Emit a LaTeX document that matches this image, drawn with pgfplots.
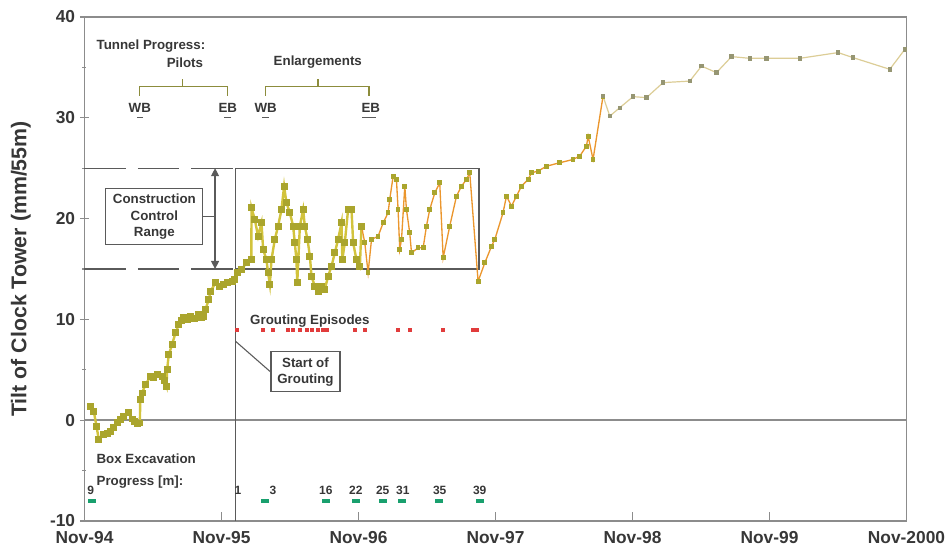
\documentclass[border=0pt]{standalone}
\usepackage{pgfplots}
\pgfplotsset{compat=1.18}
\usepackage{fontspec}
\setmainfont{Liberation Sans}
\usetikzlibrary{arrows.meta}

\definecolor{axgray}{RGB}{140,140,140}
\definecolor{txt}{RGB}{55,55,55}
\definecolor{lineA}{RGB}{210,195,60}
\definecolor{markA}{RGB}{170,165,45}
\definecolor{lineB}{RGB}{235,150,45}
\definecolor{lineC}{RGB}{220,205,150}
\definecolor{markC}{RGB}{150,150,115}
\definecolor{grout}{RGB}{225,60,60}
\definecolor{boxex}{RGB}{25,160,110}
\definecolor{brk}{RGB}{140,140,60}
\definecolor{anno}{RGB}{90,90,90}

\pgfplotstableread{
x y
0.044 1.37
0.068 0.87
0.088 -0.62
0.104 -1.9
0.141 -1.44
0.165 -1.3
0.190 -1.11
0.215 -0.7
0.238 -0.25
0.262 0.1
0.287 0.38
0.323 0.77
0.347 0.12
0.365 -0.1
0.384 -0.35
0.404 -0.28
0.407 2.04
0.420 2.70
0.445 3.53
0.482 4.35
0.505 4.2
0.530 4.52
0.566 4.35
0.585 3.9
0.599 3.36
0.603 5.01
0.615 6.50
0.639 7.50
0.664 8.66
0.688 9.48
0.705 9.9
0.725 10.15
0.750 10.0
0.774 10.31
0.800 10.1
0.834 10.48
0.855 10.2
0.871 10.31
0.883 10.97
0.907 11.97
0.920 12.79
0.956 13.62
0.985 13.3
1.017 13.46
1.045 13.7
1.077 13.78
1.097 13.95
1.114 14.62
1.146 14.95
1.182 15.61
1.218 15.94
1.219 21.07
1.243 19.91
1.267 18.25
1.292 19.58
1.304 16.93
1.328 15.94
1.340 14.62
1.353 13.46
1.365 15.94
1.389 17.93
1.413 19.25
1.438 20.90
1.457 23.22
1.474 21.57
1.499 20.58
1.523 19.25
1.535 17.60
1.547 15.94
1.553 13.62
1.572 19.25
1.596 20.90
1.608 19.25
1.628 17.93
1.645 16.27
1.657 14.28
1.681 13.29
1.705 12.79
1.730 13.29
1.754 12.96
1.778 14.28
1.803 15.27
1.827 16.60
1.851 17.93
1.876 19.58
1.882 15.94
1.900 17.60
1.924 20.90
1.949 20.90
1.961 17.60
1.985 15.94
2.010 15.27
2.022 19.25
}\segA

\pgfplotstableread{
x y
2.022 19.25
2.046 17.60
2.070 14.62
2.095 17.93
2.143 18.25
2.180 19.58
2.216 20.58
2.228 21.90
2.253 24.21
2.277 23.88
2.289 20.90
2.301 16.93
2.314 17.93
2.338 23.22
2.350 20.90
2.374 18.59
2.387 16.60
2.435 17.10
2.472 17.10
2.496 19.25
2.520 20.90
2.557 22.56
2.593 23.55
2.618 16.11
2.666 19.25
2.715 22.22
2.752 23.22
2.788 23.88
2.812 24.55
2.873 13.78
2.922 15.61
2.971 17.26
2.995 17.93
3.055 20.58
3.080 22.22
3.117 21.23
3.153 22.22
3.190 23.22
3.238 23.88
3.263 24.55
3.311 24.71
3.372 25.20
3.469 25.54
3.566 25.87
3.615 26.20
3.664 27.19
3.676 28.18
3.712 25.87
3.785 32.15
}\segB

\pgfplotstableread{
x y
3.785 32.15
3.834 30.17
3.907 31.00
4.004 32.10
4.102 32.00
4.223 33.49
4.418 33.64
4.504 35.13
4.613 34.48
4.723 36.07
4.856 35.90
4.978 35.90
5.221 35.90
5.501 36.47
5.610 35.97
5.878 34.81
5.988 36.79
}\segC

\begin{document}
\begin{tikzpicture}
\begin{axis}[
  scale only axis, width=616.5pt, height=378pt,
  xmin=0, xmax=6, ymin=-10, ymax=40,
  xtick={0,1,2,3,4,5,6},
  xticklabels={Nov-94,Nov-95,Nov-96,Nov-97,Nov-98,Nov-99,Nov-2000},
  ytick={-10,0,10,20,30,40},
  yticklabels={-10,0,10,20,30,40},
  minor ytick={-5,5,15,25,35},
  tick pos=left,
  xtick align=inside, ytick align=center,
  major tick length=7pt, minor tick length=3pt,
  axis line style={axgray, line width=1.2pt},
  tick style={axgray, line width=1pt},
  ticklabel style={font=\fontsize{13}{15}\selectfont\bfseries, text=txt},
  xticklabel style={yshift=-4pt},
  ylabel={Tilt of Clock Tower (mm/55m)},
  ylabel style={font=\fontsize{16}{18}\selectfont\bfseries, text=txt,
    at={(axis description cs:-0.0773,0.5)}, anchor=center},
  clip=false,
]
% zero line
\draw[axgray, line width=1.2pt] (axis cs:0,0) -- (axis cs:6,0);

% construction control range
\draw[anno, line width=0.9pt, dash pattern=on 31pt off 9pt] (axis cs:0,25) -- (axis cs:1.105,25);
\draw[anno, line width=0.9pt, dash pattern=on 31pt off 9pt] (axis cs:0,15) -- (axis cs:1.105,15);
\draw[anno, line width=0.9pt] (axis cs:1.105,15) rectangle (axis cs:2.88,25);
\draw[anno, line width=0.9pt] (axis cs:1.105,-10) -- (axis cs:1.105,15);
\draw[anno, line width=0.9pt, {Triangle[length=6pt,width=6pt]}-{Triangle[length=6pt,width=6pt]}] (axis cs:0.953,25) -- (axis cs:0.953,15);
\node[draw=anno, line width=0.8pt, fill=white, minimum width=72.75pt, minimum height=42pt,
  align=center, font=\fontsize{10}{12.4}\selectfont\bfseries, text=txt, inner sep=1pt]
  (ccr) at (axis cs:0.51,20.2) {Construction\\Control\\Range};
\draw[anno, line width=0.8pt] (ccr.east) -- (axis cs:0.953,20.2);

% data
\addplot[lineA, line width=1.8pt, mark=square*, mark size=1.7pt, mark options={fill=markA, draw=markA}] table[x=x,y=y] {\segA};
\addplot[lineB, line width=1pt, mark=square*, mark size=1.3pt, mark options={fill=markA, draw=markA}] table[x=x,y=y] {\segB};
\addplot[lineC, line width=0.9pt, mark=square*, mark size=1.2pt, mark options={fill=markC, draw=markC}] table[x=x,y=y] {\segC};

% tunnel progress
\node[anchor=west, font=\fontsize{10}{12}\selectfont\bfseries, text=txt] at (axis cs:0.054,37.1) {Tunnel Progress:};
\node[font=\fontsize{10}{12}\selectfont\bfseries, text=txt] at (axis cs:0.733,35.5) {Pilots};
\node[font=\fontsize{10}{12}\selectfont\bfseries, text=txt] at (axis cs:1.703,35.5) {Enlargements};
\draw[brk, line width=0.9pt] (axis cs:0.404,32.2) -- (axis cs:0.404,33.12) -- (axis cs:1.046,33.12) -- (axis cs:1.046,32.2);
\draw[brk, line width=0.9pt] (axis cs:0.717,33.12) -- (axis cs:0.717,33.8);
\draw[brk, line width=0.9pt] (axis cs:1.322,32.2) -- (axis cs:1.322,33.12) -- (axis cs:2.077,33.12) -- (axis cs:2.077,32.2);
\draw[brk, line width=0.9pt] (axis cs:1.704,33.12) -- (axis cs:1.704,33.8);
\node[font=\fontsize{10}{12}\selectfont\bfseries, text=txt] at (axis cs:0.404,31.03) {WB};
\node[font=\fontsize{10}{12}\selectfont\bfseries, text=txt] at (axis cs:1.046,31.03) {EB};
\node[font=\fontsize{10}{12}\selectfont\bfseries, text=txt] at (axis cs:1.322,31.03) {WB};
\node[font=\fontsize{10}{12}\selectfont\bfseries, text=txt] at (axis cs:2.090,31.03) {EB};
\addplot[only marks, mark=-, mark size=2.5pt, anno, line width=0.9pt] coordinates {(0.404,30) (1.046,30) (1.322,30)};
\addplot[only marks, mark=-, mark size=5pt, anno, line width=0.9pt] coordinates {(2.077,30)};

% grouting episodes
\node[font=\fontsize{10}{12}\selectfont\bfseries, text=txt] at (axis cs:1.645,9.8) {Grouting Episodes};
\addplot[only marks, mark=square*, mark size=1pt, grout] coordinates {
(1.113,9) (1.302,9) (1.374,9) (1.484,9) (1.520,9) (1.571,9) (1.622,9) (1.659,9)
(1.703,9) (1.740,9) (1.769,9) (1.973,9) (2.046,9) (2.287,9) (2.374,9) (2.615,9)
(2.834,9) (2.864,9)};
\node[draw=anno, line width=0.8pt, fill=white, minimum width=51.75pt, minimum height=30pt,
  align=center, font=\fontsize{10}{12}\selectfont\bfseries, text=txt, inner sep=1pt]
  (sog) at (axis cs:1.613,4.8) {Start of\\Grouting};
\draw[anno, line width=0.8pt] (axis cs:1.105,7.8) -- (sog.west);

% box excavation
\node[anchor=west, font=\fontsize{10}{12}\selectfont\bfseries, text=txt] at (axis cs:0.054,-3.82) {Box Excavation};
\node[anchor=west, font=\fontsize{10}{12}\selectfont\bfseries, text=txt] at (axis cs:0.054,-6.1) {Progress [m]:};
\addplot[only marks, mark=square*, mark size=1.4pt, mark options={xscale=1.9}, boxex] coordinates {
(0.054,-8) (1.316,-8) (1.762,-8) (1.98,-8) (2.18,-8) (2.318,-8) (2.586,-8) (2.885,-8)};
\node[font=\fontsize{9}{11}\selectfont\bfseries, text=txt] at (axis cs:0.046,-7.0) {9};
\node[font=\fontsize{9}{11}\selectfont\bfseries, text=txt] at (axis cs:1.12,-7.0) {1};
\node[font=\fontsize{9}{11}\selectfont\bfseries, text=txt] at (axis cs:1.375,-7.0) {3};
\node[font=\fontsize{9}{11}\selectfont\bfseries, text=txt] at (axis cs:1.762,-7.0) {16};
\node[font=\fontsize{9}{11}\selectfont\bfseries, text=txt] at (axis cs:1.98,-7.0) {22};
\node[font=\fontsize{9}{11}\selectfont\bfseries, text=txt] at (axis cs:2.177,-7.0) {25};
\node[font=\fontsize{9}{11}\selectfont\bfseries, text=txt] at (axis cs:2.323,-7.0) {31};
\node[font=\fontsize{9}{11}\selectfont\bfseries, text=txt] at (axis cs:2.593,-7.0) {35};
\node[font=\fontsize{9}{11}\selectfont\bfseries, text=txt] at (axis cs:2.885,-7.0) {39};
\end{axis}
\pgfresetboundingbox
\path[use as bounding box] ([xshift=-63.375pt,yshift=-24.75pt]current axis.south west) rectangle ([xshift=32.625pt,yshift=12.75pt]current axis.north east);
\end{tikzpicture}
\end{document}
